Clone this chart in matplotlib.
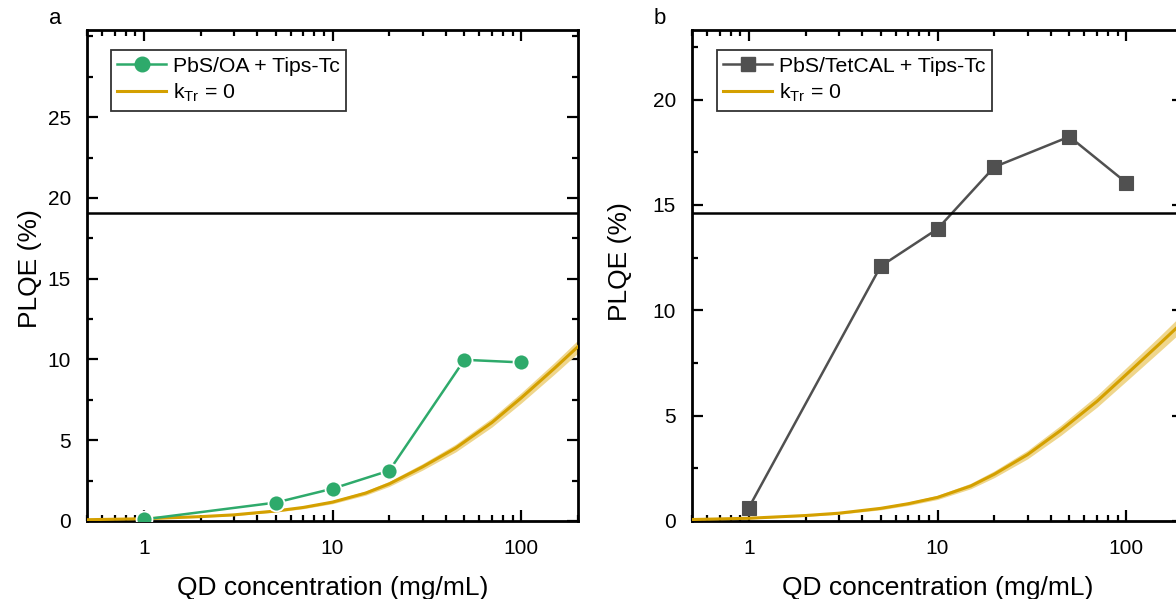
import matplotlib
matplotlib.use("Agg")
import matplotlib.pyplot as plt
from matplotlib.lines import Line2D
from matplotlib.ticker import LogLocator, MultipleLocator, FixedLocator, FixedFormatter, NullFormatter

plt.rcParams["font.family"] = ["Liberation Sans", "DejaVu Sans"]
plt.rcParams["mathtext.fontset"] = "custom"
plt.rcParams["mathtext.rm"] = "Liberation Sans"
plt.rcParams["mathtext.it"] = "Liberation Sans:italic"

# measured PLQE vs QD concentration
conc = [1, 5, 10, 20, 50, 100]
plqe_oa = [0.1, 1.14, 2.0, 3.12, 9.98, 9.82]
plqe_tetcal = [0.63, 12.09, 13.86, 16.8, 18.24, 16.06]

# simulated PLQE without triplet transfer (k_Tr = 0) and its uncertainty
sim_conc = [0.5, 1, 2, 3, 5, 7, 10, 15, 20, 30, 45, 70, 100, 150, 200]
sim_oa = [0.08, 0.14, 0.27, 0.38, 0.62, 0.84, 1.17, 1.73, 2.3, 3.35, 4.52, 6.1, 7.62, 9.45, 10.8]
sim_tetcal = [0.07, 0.13, 0.26, 0.37, 0.6, 0.82, 1.12, 1.66, 2.22, 3.15, 4.3, 5.68, 6.95, 8.4, 9.45]
sim_err = [0.02, 0.03, 0.04, 0.05, 0.07, 0.08, 0.1, 0.13, 0.16, 0.2, 0.24, 0.28, 0.32, 0.36, 0.4]

# reference PLQE levels
ref_oa = 19.07
ref_tetcal = 14.6

GREEN = "#2EAA6B"
GREY = "#505050"
GOLD = "#D4A000"
GOLD_BAND = "#EFD68C"

W, H = 1176, 599
fig = plt.figure(figsize=(W / 100, H / 100), dpi=100)
ax_a = fig.add_axes([87 / W, 78 / H, 491 / W, 491 / H])
ax_b = fig.add_axes([692 / W, 78 / H, 491 / W, 491 / H])


def style_axis(ax, ymax, yticks, ylab_pos):
    ax.set_xscale("log")
    ax.set_xlim(0.5, 200)
    ax.set_ylim(0, ymax)
    ax.xaxis.set_major_locator(FixedLocator([1, 10, 100]))
    ax.xaxis.set_major_formatter(FixedFormatter(["1", "10", "100"]))
    ax.xaxis.set_minor_locator(LogLocator(base=10, subs=range(2, 10)))
    ax.xaxis.set_minor_formatter(NullFormatter())
    ax.yaxis.set_major_locator(FixedLocator(yticks))
    ax.yaxis.set_minor_locator(MultipleLocator(2.5))
    ax.tick_params(which="both", direction="in", top=True, right=True, width=1.6,
                   labelsize=15)
    ax.tick_params(axis="x", pad=13)
    ax.tick_params(axis="y", pad=11.5)
    ax.tick_params(which="major", length=8)
    ax.tick_params(which="minor", length=4.5)
    for sp in ax.spines.values():
        sp.set_linewidth(2.0)
    ax.set_xlabel("QD concentration (mg/mL)", fontsize=19)
    ax.set_ylabel("PLQE (%)", fontsize=19)
    ax.xaxis.set_label_coords(0.5, -0.111)
    ax.yaxis.set_label_coords(*ylab_pos)


def sim_band(ax, y):
    lo = [v - e for v, e in zip(y, sim_err)]
    hi = [v + e for v, e in zip(y, sim_err)]
    ax.fill_between(sim_conc, lo, hi, color=GOLD_BAND, lw=0, zorder=2)
    ax.plot(sim_conc, y, color=GOLD, lw=2.2, zorder=3)


# a: oleic-acid capped QDs
sim_band(ax_a, sim_oa)
ax_a.plot(conc, plqe_oa, color=GREEN, lw=1.8, marker="o", ms=11.5,
          mfc=GREEN, mec="white", mew=1.3, zorder=4)
ax_a.axhline(ref_oa, color="black", lw=1.8, zorder=5)
style_axis(ax_a, 30.4, [0, 5, 10, 15, 20, 25], (-0.091, 0.515))

# b: TetCAL capped QDs
sim_band(ax_b, sim_tetcal)
ax_b.plot(conc, plqe_tetcal, color=GREY, lw=1.8, marker="s", ms=10,
          mfc=GREY, mec=GREY, mew=0.8, zorder=4)
ax_b.axhline(ref_tetcal, color="black", lw=1.8, zorder=5)
style_axis(ax_b, 23.3, [0, 5, 10, 15, 20], (-0.122, 0.5275))

for ax, handle, lab, xa in [
    (ax_a, Line2D([], [], color=GREEN, lw=1.8, marker="o", ms=10.5), "PbS/OA + Tips-Tc", 0.049),
    (ax_b, Line2D([], [], color=GREY, lw=1.8, marker="s", ms=10), "PbS/TetCAL + Tips-Tc", 0.051),
]:
    gold = Line2D([], [], color=GOLD, lw=2.2)
    leg = ax.legend([handle, gold], [lab, r"k$_{\mathrm{Tr}}$ = 0"], loc="upper left",
                    bbox_to_anchor=(xa, 0.959), borderaxespad=0, fontsize=15.3,
                    frameon=True, fancybox=False, handlelength=2.3, handletextpad=0.3,
                    borderpad=0.3, labelspacing=0.3)
    leg.get_frame().set_edgecolor("black")
    leg.get_frame().set_linewidth(1.3)
    leg.set_zorder(6)

fig.text(55 / W, 1 - 18 / H, "a", fontsize=16, ha="center", va="center")
fig.text(660 / W, 1 - 18 / H, "b", fontsize=16, ha="center", va="center")

fig.savefig("out.png", dpi=100)
